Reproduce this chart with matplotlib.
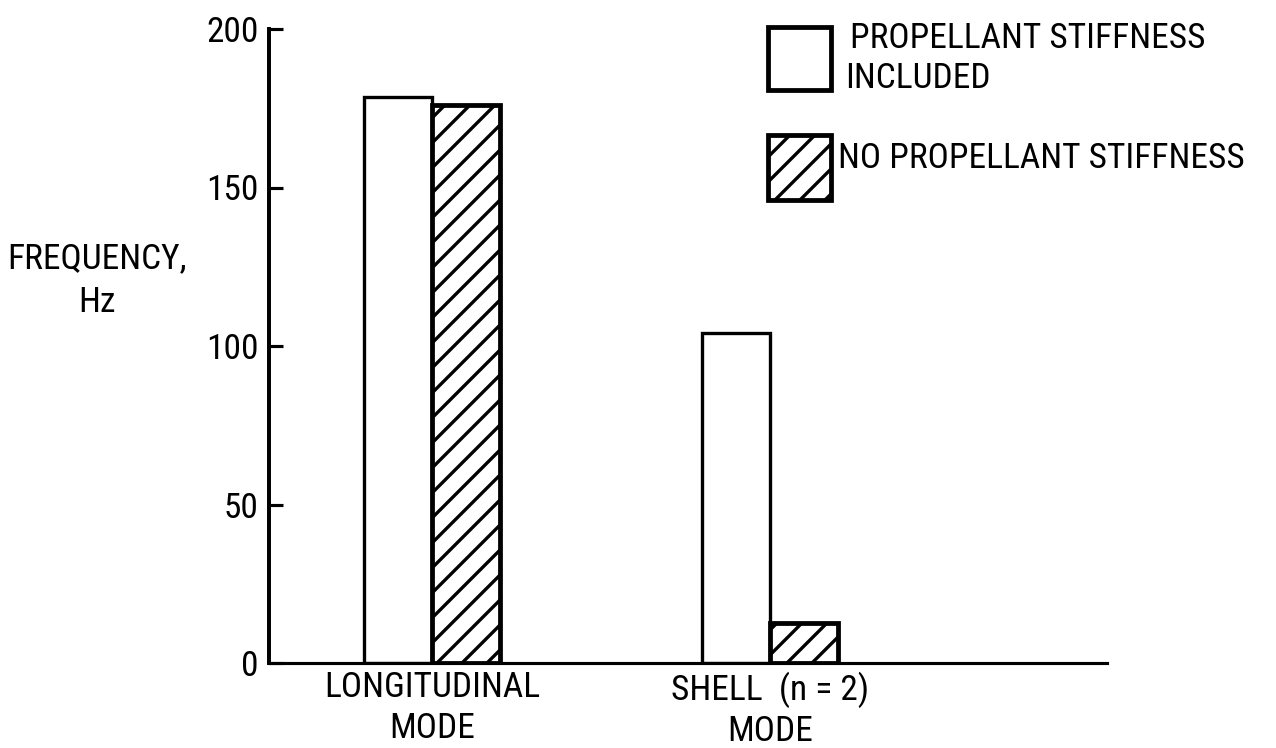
import numpy as np
import matplotlib
matplotlib.use('Agg')
import matplotlib.pyplot as plt
from matplotlib.patches import Rectangle

# data
modes = ['LONGITUDINAL\nMODE', 'SHELL  (n = 2)\nMODE']
stiffness_included = [178.5, 104]
no_stiffness = [176, 12.6]
yticks = [0, 50, 100, 150, 200]
legend_labels = ['PROPELLANT STIFFNESS\nINCLUDED', 'NO PROPELLANT STIFFNESS']

plt.rcParams['font.family'] = ['Roboto Condensed', 'Archivo Narrow', 'PT Sans Narrow',
                               'Liberation Sans Narrow', 'DejaVu Sans']
plt.rcParams['hatch.linewidth'] = 1.6

W, H, DPI = 1276, 748, 150
FS = 17
fig = plt.figure(figsize=(W / DPI, H / DPI), dpi=DPI)
ax = fig.add_axes([269 / W, 1 - 663 / H, (1107 - 269) / W, (663 - 29) / H])

x = np.arange(len(modes))
bw = 0.2
ax.bar(x - bw / 2, stiffness_included, bw, facecolor='white',
       edgecolor='black', linewidth=1.6)
ax.bar(x + bw / 2, no_stiffness, bw, facecolor='white',
       edgecolor='black', linewidth=2.3, hatch='//')

ax.set_xlim(-0.482, 1.997)
ax.set_ylim(0, 200)
for s in ['top', 'right']:
    ax.spines[s].set_visible(False)
ax.spines['left'].set_linewidth(1.9)
ax.spines['bottom'].set_linewidth(1.5)

ax.set_yticks(yticks)
ax.tick_params(axis='y', direction='in', length=6.7, width=1.5, pad=5, labelsize=FS)
ax.set_xticks(x)
ax.set_xticklabels(modes, linespacing=1.28)
ax.tick_params(axis='x', length=0, pad=4, labelsize=FS)

ax.set_ylabel('FREQUENCY,\nHz', rotation=0, fontsize=FS, ha='center', va='center',
              linespacing=1.4)
ax.yaxis.set_label_coords(-0.205, 0.603)

# legend drawn by hand, boxes to the left of the text
fig.add_artist(Rectangle((768 / W, 1 - 90 / H), 63 / W, 63 / H, transform=fig.transFigure,
                         facecolor='white', edgecolor='black', linewidth=2.3))
fig.add_artist(Rectangle((768 / W, 1 - 200 / H), 63 / W, 65 / H, transform=fig.transFigure,
                         facecolor='white', edgecolor='black', linewidth=2.3, hatch='//'))
line1, line2 = legend_labels[0].split('\n')
fig.text(850 / W, 1 - 48 / H, line1, va='baseline', fontsize=FS)
fig.text(845 / W, 1 - 88 / H, line2, va='baseline', fontsize=FS)
fig.text(838 / W, 1 - 168 / H, legend_labels[1], va='baseline', fontsize=FS)

fig.savefig('out.png', dpi=DPI)
